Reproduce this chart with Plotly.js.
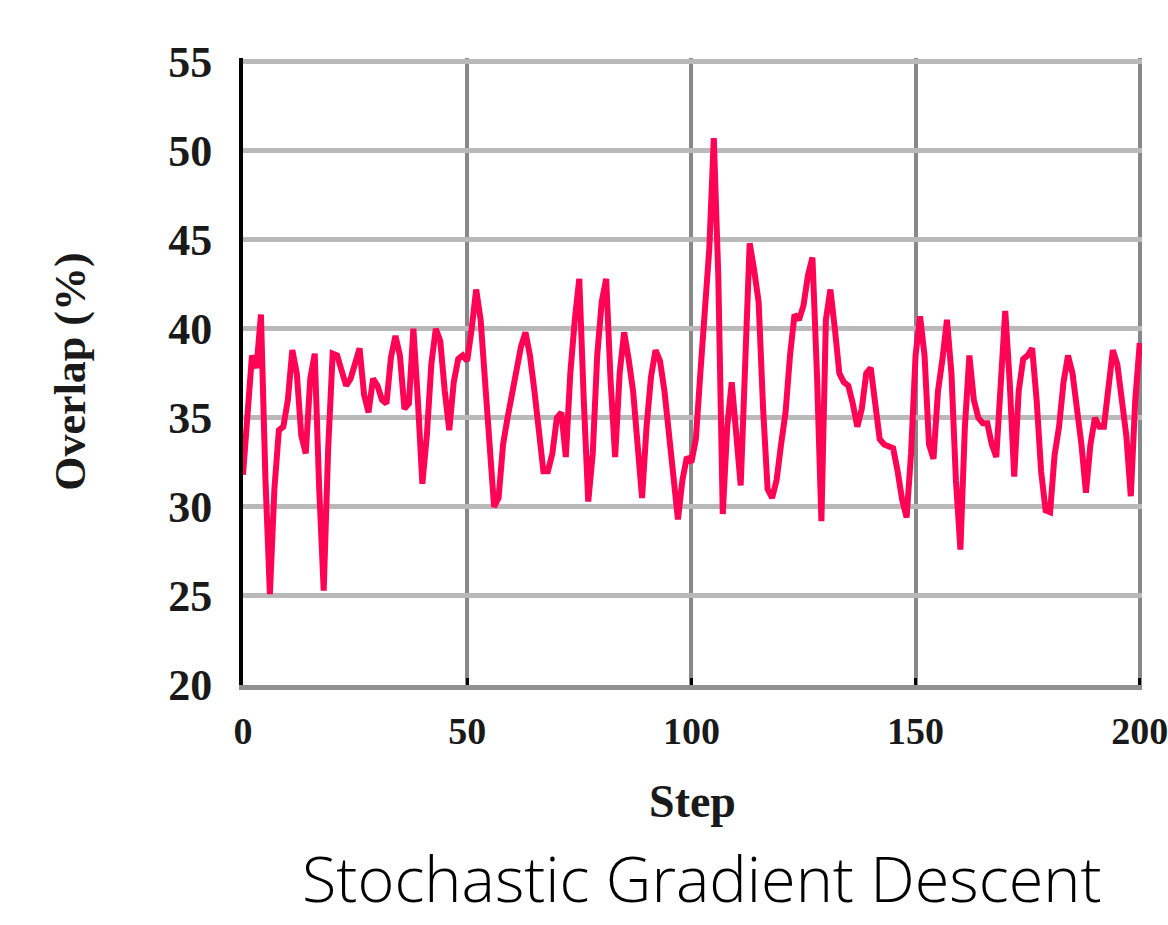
<!DOCTYPE html>
<html>
<head>
<meta charset="utf-8">
<script src="https://cdn.plot.ly/plotly-3.0.1.min.js"></script>
<style>html,body{margin:0;padding:0;background:#fff;}</style>
</head>
<body>
<div id="chart" style="width:1168px;height:925px;"></div>
<script>
// Overlap (%) per SGD step
const overlap = [
  31.8, 35.5, 38.5, 37.8, 40.8, 31.6, 25.1, 31.0, 34.3, 34.5,
  36.0, 38.8, 37.5, 34.0, 33.0, 37.2, 38.6, 31.0, 25.3, 33.3,
  38.6, 38.5, 37.5, 36.8, 37.2, 38.2, 38.9, 36.3, 35.3, 37.2,
  36.8, 36.0, 35.8, 38.4, 39.6, 38.5, 35.5, 35.8, 40.0, 36.0,
  31.3, 34.0, 38.0, 40.0, 39.3, 36.5, 34.3, 37.0, 38.3, 38.5,
  38.2, 40.0, 42.2, 40.5, 37.0, 34.0, 30.0, 30.5, 33.5, 35.0,
  36.5, 37.5, 39.0, 39.8, 38.5, 36.5, 34.0, 32.0, 32.0, 33.0,
  35.0, 35.3, 32.8, 37.5, 40.5, 42.8, 36.0, 30.3, 33.0, 38.5,
  41.5, 42.8, 37.0, 32.8, 37.5, 39.8, 38.3, 36.5, 33.5, 30.5,
  34.5, 37.3, 38.8, 38.2, 36.5, 34.0, 31.5, 29.3, 31.5, 32.8,
  32.5, 33.8, 37.5, 40.7, 44.5, 50.7, 43.0, 29.6, 34.5, 37.0,
  34.5, 31.2, 38.0, 44.8, 43.3, 41.5, 35.5, 31.0, 30.5, 31.5,
  33.5, 35.3, 38.5, 40.8, 40.5, 41.3, 43.0, 44.0, 37.5, 29.2,
  40.5, 42.2, 40.0, 37.5, 37.0, 36.8, 35.8, 34.5, 35.5, 37.5,
  37.8, 35.5, 33.8, 33.5, 33.4, 33.3, 32.0, 30.4, 29.4, 33.0,
  38.5, 40.7, 38.5, 33.5, 32.7, 36.5, 38.3, 40.5, 37.5, 31.5,
  27.6, 34.5, 38.5, 36.0, 35.0, 34.7, 34.7, 33.5, 32.8, 37.0,
  41.0, 37.0, 31.7, 36.5, 38.3, 38.5, 38.9, 36.0, 32.0, 29.8,
  29.7, 32.9, 34.5, 37.0, 38.5, 37.5, 35.5, 33.5, 30.8, 33.5,
  35.0, 34.5, 34.5, 36.5, 38.8, 38.0, 36.0, 34.0, 30.6, 36.0,
  39.2
];
const steps = overlap.map((_, i) => i);

const xTickVals = [0, 50, 100, 150, 200];
const xTickText = ['0', '50', '100', '150', '200'];
const yTickVals = [20, 25, 30, 35, 40, 45, 50, 55];
const yTickText = ['20', '25', '30', '35', '40', '45', '50', '55'];

const xTitle = 'Step';
const yTitle = 'Overlap (%)';
const caption = 'Stochastic Gradient Descent';

const trace = {
  x: steps,
  y: overlap,
  type: 'scatter',
  mode: 'lines',
  line: {color: '#ff0455', width: 6},
  hoverinfo: 'skip'
};

const serif = 'Liberation Serif, Times New Roman, serif';

const layout = {
  width: 1168,
  height: 925,
  margin: {l: 243, r: 26, t: 58, b: 240},
  paper_bgcolor: '#ffffff',
  plot_bgcolor: '#ffffff',
  showlegend: false,
  xaxis: {
    range: [0, 200.5],
    tickvals: xTickVals,
    ticktext: xTickText,
    showgrid: true,
    gridcolor: '#888888',
    gridwidth: 4,
    zeroline: false,
    showline: true,
    linecolor: '#909090',
    linewidth: 5,
    ticks: 'inside',
    ticklen: 7,
    tickwidth: 3,
    tickcolor: '#000000',
    ticklabelstandoff: 8,
    ticklabeloverflow: 'allow',
    tickfont: {family: serif, size: 38, color: '#1a1a1a', weight: 'bold'},
    title: {text: xTitle, font: {family: serif, size: 46, color: '#1a1a1a', weight: 'bold'}, standoff: 36},
    automargin: false,
    fixedrange: true
  },
  yaxis: {
    range: [20, 55.2],
    tickvals: yTickVals,
    ticktext: yTickText,
    showgrid: true,
    gridcolor: '#b9b9b9',
    gridwidth: 5,
    zeroline: false,
    showline: true,
    linecolor: '#000000',
    linewidth: 4,
    ticks: '',
    ticklabelstandoff: 18,
    tickfont: {family: serif, size: 44, color: '#1a1a1a', weight: 'bold'},
    title: {text: yTitle, font: {family: serif, size: 44, color: '#1a1a1a', weight: 'bold'}, standoff: 70},
    automargin: false,
    fixedrange: true
  },
  annotations: [{
    text: caption,
    xref: 'paper', yref: 'paper',
    x: 0.511, y: -0.378,
    xanchor: 'center', yanchor: 'bottom',
    showarrow: false,
    font: {family: 'Open Sans, Noto Sans, sans-serif', size: 63, color: '#000000', weight: 300}
  }]
};

Plotly.newPlot('chart', [trace], layout, {displayModeBar: false, staticPlot: true});
</script>
</body>
</html>
